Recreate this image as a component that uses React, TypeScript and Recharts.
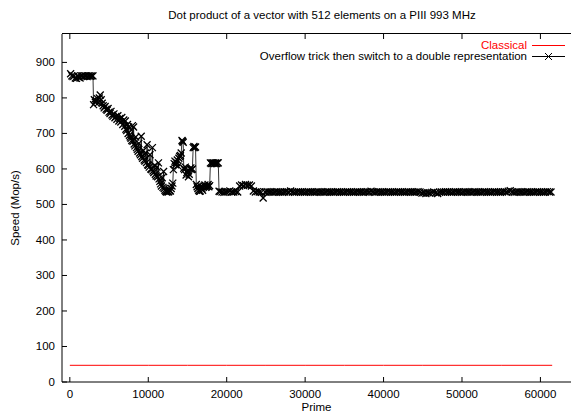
import React from "react"
import { LineChart, Line, XAxis, YAxis, Legend } from "recharts"

// [prime, Mop/s]
const plateauPoints: [number, number][] = [
  [100, 868], [250, 862], [400, 860], [550, 862], [700, 856], [850, 855], [1000, 862],
  [1150, 858], [1300, 856], [1450, 862], [1600, 862], [1750, 860], [1900, 862], [2050, 862],
  [2200, 860], [2350, 862], [2500, 862], [2650, 861], [2800, 862], [2950, 862],
]

const declinePoints: [number, number][] = [
  [3025, 781], [3125, 795], [3250, 788], [3375, 792], [3500, 798], [3625, 786], [3750, 800],
  [3875, 808], [4000, 795], [4125, 785], [4250, 778], [4375, 772], [4500, 776], [4625, 768],
  [4750, 765], [4875, 770], [5000, 760], [5125, 756], [5250, 762], [5375, 752], [5500, 748],
  [5625, 755], [5750, 744], [5875, 748], [6000, 740], [6125, 750], [6250, 735], [6375, 742],
  [6500, 732], [6625, 745], [6750, 725], [6875, 738], [7000, 720], [7075, 735], [7150, 712],
  [7250, 708], [7350, 725], [7425, 700], [7500, 718], [7600, 695], [7700, 690], [7800, 686],
  [7900, 680], [7975, 722], [8050, 678], [8125, 718], [8200, 670], [8300, 665], [8400, 690],
  [8500, 660], [8600, 655], [8700, 650], [8800, 672], [8900, 645], [9000, 640], [9100, 692],
  [9175, 635], [9275, 630], [9375, 652], [9475, 625], [9575, 622], [9675, 645], [9775, 618],
  [9850, 668], [9925, 612], [10025, 610], [10125, 605], [10225, 640], [10325, 600],
  [10425, 598], [10525, 660], [10600, 594], [10700, 590], [10800, 610], [10900, 585],
  [11000, 580], [11100, 605], [11200, 578], [11300, 617], [11375, 572], [11475, 565],
  [11575, 558], [11675, 552], [11775, 575], [11875, 548], [11950, 593], [12025, 545],
  [12125, 540], [12225, 537], [12325, 535], [12425, 537], [12525, 535], [12625, 536],
  [12725, 540], [12825, 538], [12925, 545], [13025, 552], [13125, 560],
]

const bumpPoints: [number, number][] = [
  [13200, 598], [13300, 615], [13400, 622], [13500, 612], [13600, 618], [13700, 625],
  [13800, 608], [13900, 630], [14000, 635], [14100, 638], [14200, 645], [14300, 680],
  [14375, 678], [14450, 675], [14525, 602], [14625, 598], [14725, 605], [14825, 583],
  [14925, 590], [15025, 596], [15125, 578], [15225, 585], [15325, 600], [15425, 603],
  [15525, 598], [15625, 600], [15725, 660], [15825, 663], [15925, 660], [16025, 662],
  [16125, 556], [16225, 550], [16325, 545], [16425, 540], [16525, 537], [16625, 538],
  [16725, 550], [16825, 545], [16925, 540], [17025, 548], [17125, 552], [17225, 555],
  [17325, 548], [17425, 550], [17525, 552], [17625, 556], [17725, 550], [17825, 553],
  [17925, 617], [18025, 615], [18125, 617], [18225, 616], [18325, 617], [18425, 615],
  [18525, 617], [18625, 616], [18725, 615], [18825, 617], [18925, 617], [19025, 537],
]

const flatPoints: [number, number][] = [
  [19150, 536], [19400, 535], [19650, 534], [19900, 535], [20150, 536], [20400, 538],
  [20650, 535], [20900, 535], [21150, 536], [21400, 535], [21650, 552], [21900, 555],
  [22150, 553], [22400, 556], [22650, 554], [22900, 555], [23150, 552], [23400, 538],
  [23650, 535], [23900, 536], [24150, 535], [24400, 534], [24650, 518], [24900, 535],
  [25150, 536], [25400, 535], [25650, 535], [25900, 534], [26150, 535], [26400, 536],
  [26650, 535], [26900, 535], [27150, 534], [27400, 535], [27650, 536], [27900, 535],
  [28150, 538], [28400, 535], [28650, 534], [28900, 535], [29150, 536], [29400, 535],
  [29650, 535], [29900, 534], [30150, 535], [30400, 536], [30650, 535], [30900, 535],
  [31150, 534], [31400, 535], [31650, 536], [31900, 535], [32150, 535], [32400, 534],
  [32650, 535], [32900, 536], [33150, 535], [33400, 535], [33650, 534], [33900, 535],
  [34150, 536], [34400, 535], [34650, 535], [34900, 534], [35150, 535], [35400, 536],
  [35650, 535], [35900, 535], [36150, 534], [36400, 535], [36650, 536], [36900, 535],
  [37150, 535], [37400, 534], [37650, 535], [37900, 536], [38150, 535], [38400, 537],
  [38650, 535], [38900, 534], [39150, 535], [39400, 536], [39650, 535], [39900, 535],
  [40150, 534], [40400, 535], [40650, 536], [40900, 535], [41150, 535], [41400, 534],
  [41650, 535], [41900, 536], [42150, 535], [42400, 535], [42650, 534], [42900, 535],
  [43150, 536], [43400, 535], [43650, 535], [43900, 534], [44150, 535], [44400, 536],
  [44650, 535], [44900, 532], [45150, 533], [45400, 531], [45650, 533], [45900, 532],
  [46150, 534], [46400, 535], [46650, 533], [46900, 531], [47150, 534], [47400, 535],
  [47650, 535], [47900, 536], [48150, 535], [48400, 535], [48650, 534], [48900, 535],
  [49150, 536], [49400, 535], [49650, 535], [49900, 534], [50150, 535], [50400, 536],
  [50650, 535], [50900, 535], [51150, 534], [51400, 535], [51650, 536], [51900, 535],
  [52150, 535], [52400, 534], [52650, 535], [52900, 536], [53150, 535], [53400, 535],
  [53650, 534], [53900, 535], [54150, 536], [54400, 535], [54650, 535], [54900, 534],
  [55150, 535], [55400, 536], [55650, 535], [55900, 537], [56150, 539], [56400, 535],
  [56650, 534], [56900, 535], [57150, 536], [57400, 535], [57650, 535], [57900, 534],
  [58150, 535], [58400, 536], [58650, 535], [58900, 535], [59150, 534], [59400, 535],
  [59650, 536], [59900, 535], [60150, 535], [60400, 534], [60650, 535], [60900, 536],
  [61150, 535], [61350, 535],
]

const classicalPoints: [number, number][] = [
  [0, 47], [5000, 47], [10000, 47], [15000, 47], [20000, 47], [25000, 47], [30000, 47],
  [35000, 47], [40000, 47], [45000, 47], [50000, 47], [55000, 47], [61500, 47],
]

const xTicks = [0, 10000, 20000, 30000, 40000, 50000, 60000]
const yTicks = [0, 100, 200, 300, 400, 500, 600, 700, 800, 900]

const overflowData = [...plateauPoints, ...declinePoints, ...bumpPoints, ...flatPoints].map(([x, y]) => ({ x, y }))
const classicalData = classicalPoints.map(([x, y]) => ({ x, y }))

const FONT = "'Liberation Sans', Arial, Helvetica, sans-serif"
const RED = "#ff0000"
const PLOT_TOP = 34
const PLOT_LEFT = 62

const YTick = (props: any) => {
  const { x, y, payload } = props
  return (
    <g>
      <path d={`M${x},${y}H${x + 5}`} stroke="#000" strokeWidth={1} fill="none" />
      <text x={x - 7} y={y} dy={4} textAnchor="end" fontSize={11.5} fill="#000" fontFamily={FONT}>
        {payload.value}
      </text>
    </g>
  )
}

// bottom tick plus its mirror on the top border (gnuplot style, inward)
const XTick = (props: any) => {
  const { x, y, payload } = props
  return (
    <g>
      <path
        d={`M${x},${y}V${y - 5}M${x},${PLOT_TOP}V${PLOT_TOP + 5}`}
        stroke="#000"
        strokeWidth={1}
        fill="none"
      />
      <text x={x} y={y + 16} textAnchor="middle" fontSize={11.5} fill="#000" fontFamily={FONT}>
        {payload.value}
      </text>
    </g>
  )
}

const crossDot = (props: any) => {
  const { cx, cy, index } = props
  const s = 3.5
  return (
    <path
      key={`d-${index}`}
      d={`M${cx - s},${cy - s}L${cx + s},${cy + s}M${cx - s},${cy + s}L${cx + s},${cy - s}`}
      stroke="#000"
      strokeWidth={1.3}
      fill="none"
    />
  )
}

const renderLegend = () => (
  <div style={{ fontFamily: FONT, fontSize: 11.5, lineHeight: "11.3px" }}>
    <div style={{ display: "flex", justifyContent: "flex-end", alignItems: "center", height: 11.3 }}>
      <span style={{ color: RED }}>Classical</span>
      <svg width={38} height={11}>
        <line x1={5} x2={38} y1={5.5} y2={5.5} stroke={RED} />
      </svg>
    </div>
    <div style={{ display: "flex", justifyContent: "flex-end", alignItems: "center", height: 11.3 }}>
      <span style={{ color: "#000" }}>Overflow trick then switch to a double representation</span>
      <svg width={38} height={11}>
        <line x1={5} x2={38} y1={5.5} y2={5.5} stroke="#000" />
        <path d="M18,2L25,9M18,9L25,2" stroke="#000" />
      </svg>
    </div>
  </div>
)

export default function App() {
  return (
    <div style={{ position: "absolute", left: 0, top: 0, width: 571, height: 415, fontFamily: FONT }}>
      <div
        style={{
          position: "absolute",
          left: 0,
          width: 644,
          top: 9,
          textAlign: "center",
          fontSize: 11.5,
          color: "#000",
        }}
      >
        Dot product of a vector with 512 elements on a PIII 993 MHz
      </div>
      <LineChart width={571} height={415} margin={{ top: PLOT_TOP, right: 0, bottom: 0, left: 0 }}>
        <XAxis
          type="number"
          dataKey="x"
          domain={[-1000, 63900]}
          allowDataOverflow
          ticks={xTicks}
          height={33}
          tickSize={0}
          tickMargin={0}
          tickLine={false}
          tick={<XTick />}
          axisLine={{ stroke: "#000" }}
          label={{ value: "Prime", position: "insideBottom", offset: 4, fontSize: 11.5, fill: "#000", fontFamily: FONT }}
        />
        <YAxis
          type="number"
          domain={[0, 980]}
          allowDataOverflow
          ticks={yTicks}
          width={PLOT_LEFT}
          tickSize={0}
          tickMargin={0}
          tickLine={false}
          tick={<YTick />}
          axisLine={{ stroke: "#000" }}
          label={{
            value: "Speed (Mop/s)",
            angle: -90,
            position: "insideLeft",
            offset: 15,
            fontSize: 11.5,
            fill: "#000",
            fontFamily: FONT,
            style: { textAnchor: "middle" },
          }}
        />
        <Legend
          layout="horizontal"
          verticalAlign="middle"
          align="center"
          content={renderLegend}
          wrapperStyle={{ left: 0, top: 40, width: 565 }}
        />
        <Line
          data={classicalData}
          dataKey="y"
          name="Classical"
          stroke={RED}
          strokeWidth={1}
          dot={false}
          isAnimationActive={false}
        />
        <Line
          data={overflowData}
          dataKey="y"
          name="Overflow trick then switch to a double representation"
          stroke="#000"
          strokeWidth={0.8}
          dot={crossDot}
          isAnimationActive={false}
        />
      </LineChart>
      {/* top border of the gnuplot frame */}
      <div
        style={{
          position: "absolute",
          zIndex: 10,
          left: PLOT_LEFT,
          top: PLOT_TOP - 1,
          width: 571 - PLOT_LEFT,
          height: 1,
          background: "#000",
          pointerEvents: "none",
        }}
      />
    </div>
  )
}
